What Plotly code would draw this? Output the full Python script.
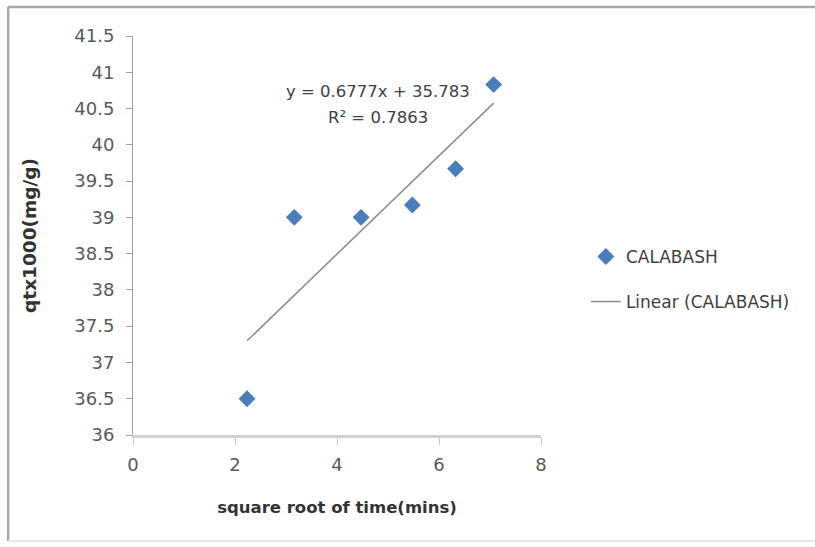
import plotly.graph_objects as go

# Square root of contact time (mins) and adsorbed amount (qt x 1000, mg/g)
sqrt_time = [2.236, 3.162, 4.472, 5.477, 6.325, 7.071]
qt_values = [36.5, 39.0, 39.0, 39.17, 39.67, 40.83]

# Linear trendline coefficients
slope = 0.6777
intercept = 35.783
r_squared = 0.7863

y_ticks = [36, 36.5, 37, 37.5, 38, 38.5, 39, 39.5, 40, 40.5, 41, 41.5]
x_ticks = [0, 2, 4, 6, 8]

FONT = "DejaVu Sans"
TICK_COLOR = "#595959"
TEXT_COLOR = "#404040"

trend_x = [min(sqrt_time), max(sqrt_time)]
trend_y = [slope * x + intercept for x in trend_x]

fig = go.Figure()
fig.add_trace(go.Scatter(
    x=sqrt_time, y=qt_values, mode="markers", name="CALABASH",
    legendgroup="a",
    marker=dict(symbol="diamond", size=13, color="#4a7ebb",
                line=dict(width=0)),
))
fig.add_trace(go.Scatter(
    x=trend_x, y=trend_y, mode="lines", name="Linear (CALABASH)",
    legendgroup="b",
    line=dict(color="#8c8c84", width=1.5),
))

fig.add_annotation(
    x=4.8, y=40.73, xref="x", yref="y", showarrow=False,
    text=f"y = {slope}x + {intercept}",
    font=dict(family=FONT, size=16.5, color=TEXT_COLOR),
)
fig.add_annotation(
    x=4.8, y=40.37, xref="x", yref="y", showarrow=False,
    text=f"R² = {r_squared}",
    font=dict(family=FONT, size=16.5, color=TEXT_COLOR),
)

# Outer chart frame
frame = dict(type="line", xref="paper", yref="paper", layer="above")
fig.add_shape(**frame, x0=-0.306, x1=-0.306, y0=1.0727, y1=-0.2657,
              line=dict(color="#a8a8a8", width=2.5))
fig.add_shape(**frame, x0=-0.306, x1=1.7, y0=1.0727, y1=1.0727,
              line=dict(color="#a8a8a8", width=2.5))
fig.add_shape(**frame, x0=-0.306, x1=1.7, y0=-0.2657, y1=-0.2657,
              line=dict(color="#e8e8e8", width=2))

fig.update_layout(
    width=815, height=547,
    margin=dict(l=133, r=274, t=36, b=112),
    paper_bgcolor="white", plot_bgcolor="white",
    showlegend=True,
    legend=dict(
        x=1.11, y=0.39, xanchor="left", yanchor="middle",
        font=dict(family=FONT, size=17, color=TEXT_COLOR),
        tracegroupgap=20, traceorder="grouped",
        bgcolor="rgba(0,0,0,0)",
    ),
    xaxis=dict(
        range=[0, 8], tickvals=x_ticks, ticktext=[str(v) for v in x_ticks],
        showgrid=False, zeroline=False,
        showline=True, linecolor="#d0d0d0", linewidth=3,
        ticks="outside", ticklen=7, tickcolor="#c8c8c8", tickwidth=1,
        ticklabelstandoff=4,
        tickfont=dict(family=FONT, size=18, color=TICK_COLOR),
        title=dict(text="<b>square root of time(mins)</b>", standoff=28,
                   font=dict(family=FONT, size=16.5, color="#333333")),
    ),
    yaxis=dict(
        range=[36, 41.5], tickvals=y_ticks,
        ticktext=[f"{v:g}" for v in y_ticks],
        showgrid=False, zeroline=False,
        showline=True, linecolor="#a0a0a0", linewidth=1,
        ticks="outside", ticklen=6, tickcolor="#a0a0a0", tickwidth=1,
        ticklabelstandoff=8,
        tickfont=dict(family=FONT, size=18, color=TICK_COLOR),
        title=dict(text="<b>qtx1000(mg/g)</b>", standoff=32,
                   font=dict(family=FONT, size=18.5, color="#333333")),
    ),
)

fig.write_html("out.html")
